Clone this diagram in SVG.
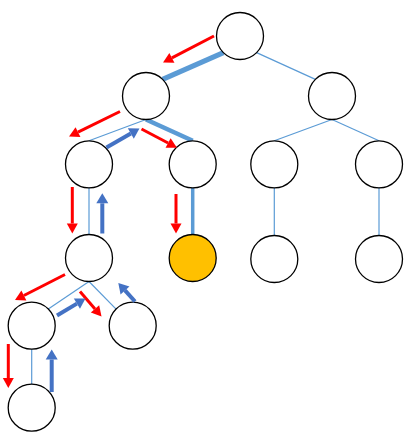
<svg xmlns="http://www.w3.org/2000/svg" width="419" height="442" viewBox="0 0 419 442">
<style>
.node{fill:#ffffff;stroke:#000000;stroke-width:1.3}
.gold{fill:#FFC000}
.con{stroke:#5B9BD5;stroke-width:1.2;fill:none}
.thick{stroke-width:5}
.red{stroke:#FF0000;stroke-width:3;fill:none}
.blue{stroke:#4472C4;stroke-width:4;fill:none}
</style>
<defs>
<marker id="rh" markerUnits="userSpaceOnUse" markerWidth="10" markerHeight="11" refX="0" refY="5.5" orient="auto" overflow="visible">
<path d="M0,0 L10,5.5 L0,11 z" fill="#FF0000"/>
</marker>
<marker id="bh" markerUnits="userSpaceOnUse" markerWidth="10" markerHeight="12" refX="0" refY="6" orient="auto" overflow="visible">
<path d="M0,0 L10,6 L0,12 z" fill="#4472C4"/>
</marker>
</defs>
<rect width="419" height="442" fill="#ffffff"/>
<g id="connectors">
<line class="con thick" x1="223.4" y1="52.6" x2="162.6" y2="79.4"/>
<line class="con" x1="256.6" y1="52.6" x2="315.4" y2="79.4"/>
<line class="con" x1="146" y1="119.5" x2="89" y2="140.8"/>
<line class="con" style="stroke-width:4.5" x1="146" y1="119.5" x2="192.7" y2="140.8"/>
<line class="con" x1="332" y1="119.5" x2="274.3" y2="140.8"/>
<line class="con" x1="332" y1="119.5" x2="379" y2="140.8"/>
<line class="con" x1="89" y1="187.5" x2="89" y2="234.5"/>
<line class="con" style="stroke-width:3.5" x1="192.7" y1="187.5" x2="192.7" y2="234.5"/>
<line class="con" x1="274.3" y1="187.5" x2="274.3" y2="235.5"/>
<line class="con" x1="379" y1="187.5" x2="379" y2="235.5"/>
<line class="con" x1="89" y1="281.5" x2="48.3" y2="309.1"/>
<line class="con" x1="89" y1="281.5" x2="116.1" y2="309.1"/>
<line class="con" x1="31.7" y1="349" x2="31.7" y2="384.2"/>
</g>
<g id="node-root"><circle class="node" cx="240" cy="36" r="23.5"/></g>
<g id="node-b"><circle class="node" cx="146" cy="96" r="23.5"/></g>
<g id="node-c"><circle class="node" cx="332" cy="96" r="23.5"/></g>
<g id="node-d"><circle class="node" cx="89" cy="164.3" r="23.5"/></g>
<g id="node-e"><circle class="node" cx="192.7" cy="164.3" r="23.5"/></g>
<g id="node-c1"><circle class="node" cx="274.3" cy="164.3" r="23.5"/></g>
<g id="node-c2"><circle class="node" cx="379" cy="164.3" r="23.5"/></g>
<g id="node-f"><circle class="node" cx="89" cy="258" r="23.5"/></g>
<g id="node-g"><circle class="node gold" cx="192.7" cy="258" r="23.5"/></g>
<g id="node-c1a"><circle class="node" cx="274.3" cy="259" r="23.5"/></g>
<g id="node-c2a"><circle class="node" cx="379" cy="259" r="23.5"/></g>
<g id="node-h"><circle class="node" cx="31.7" cy="325.7" r="23.5"/></g>
<g id="node-i"><circle class="node" cx="132.7" cy="325.7" r="23.5"/></g>
<g id="node-j"><circle class="node" cx="31.7" cy="407.7" r="23.5"/></g>
<g id="arrows">
<line class="red" x1="214" y1="36" x2="171.9" y2="57.9" marker-end="url(#rh)"/>
<line class="red" x1="120" y1="111.5" x2="78" y2="132.1" marker-end="url(#rh)"/>
<line class="red" x1="141.5" y1="129" x2="168.1" y2="143" marker-end="url(#rh)"/>
<line class="red" x1="72.3" y1="187" x2="72.3" y2="223.5" marker-end="url(#rh)"/>
<line class="red" x1="176" y1="194" x2="176" y2="223.5" marker-end="url(#rh)"/>
<line class="red" x1="65" y1="274.5" x2="23.9" y2="295.5" marker-end="url(#rh)"/>
<line class="red" x1="80" y1="291.5" x2="95" y2="308.9" marker-end="url(#rh)"/>
<line class="red" x1="8.3" y1="344" x2="8.3" y2="378" marker-end="url(#rh)"/>
<line class="blue" x1="106.5" y1="147.5" x2="130.8" y2="133.5" marker-end="url(#bh)"/>
<line class="blue" x1="102.3" y1="233.5" x2="102.3" y2="203.3" marker-end="url(#bh)"/>
<line class="blue" x1="57" y1="315.5" x2="76.9" y2="303.6" marker-end="url(#bh)"/>
<line class="blue" x1="135" y1="301.5" x2="125" y2="290.4" marker-end="url(#bh)"/>
<line class="blue" x1="51.7" y1="392" x2="51.7" y2="359.5" marker-end="url(#bh)"/>
</g>
</svg>
